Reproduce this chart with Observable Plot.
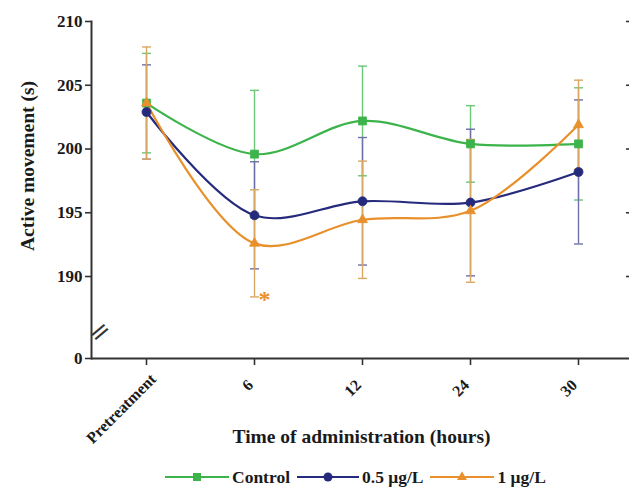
<!DOCTYPE html>
<html>
<head>
<meta charset="utf-8">
<script src="https://cdn.jsdelivr.net/npm/d3@7"></script>
<script src="https://cdn.jsdelivr.net/npm/@observablehq/plot@0.6"></script>
<style>
  html, body { margin: 0; padding: 0; background: #fff; }
  body { width: 629px; height: 488px; overflow: hidden; font-family: "Liberation Serif", "DejaVu Serif Condensed", "DejaVu Serif", serif; }
  #legend { display: flex; align-items: center; height: 26px; padding-top: 2px; margin-left: 165px;
            font-family: "Liberation Serif", "DejaVu Serif Condensed", "DejaVu Serif", serif; font-weight: bold; font-size: 17.5px; color: #1a1a1a; }
  #legend .item { display: flex; align-items: center; }
  #legend svg { display: block; }
  #legend span { margin-left: 3px; margin-right: 7px; white-space: nowrap; }
</style>
</head>
<body>
<div id="chart"></div>
<div id="legend"></div>
<script>
// ---- data ----
const categories = ["Pretreatment", "6", "12", "24", "30"];
const seriesNames = ["Control", "0.5 μg/L", "1 μg/L"];
const controlMean = [203.6, 199.6, 202.2, 200.4, 200.4];
const controlSD   = [3.9, 5.0, 4.3, 3.0, 4.4];
const lowMean     = [202.9, 194.8, 195.9, 195.8, 198.2];
const lowSD       = [3.7, 4.2, 5.0, 5.75, 5.65];
const highMean    = [203.6, 192.6, 194.45, 195.15, 201.9];
const highSD      = [4.4, 4.2, 4.6, 5.6, 3.5];
const yTicks = [190, 195, 200, 205, 210];
const yBreakBottom = 183.57;   // bottom of broken axis, labelled "0"
const yBreakMark = 185.1;      // where the "//" break sign sits
const significance = [{series: "1 μg/L", time: "6"}];

const colors    = ["#3cb44b", "#262a7c", "#e8902c"];
const errColors = ["#6cc777", "#6d71a9", "#d8a862"];
const symbols   = ["square", "circle", "triangle"];
const radii     = [4.5, 4.5, 3.7];

const means = [controlMean, lowMean, highMean];
const sds = [controlSD, lowSD, highSD];

const rowsBySeries = seriesNames.map((s, i) => categories.map((t, j) => ({
  series: s, time: t, mean: means[i][j], lo: means[i][j] - sds[i][j], hi: means[i][j] + sds[i][j]
})));

const capSymbol = {
  draw(ctx, size) { const r = Math.sqrt(size / Math.PI); ctx.moveTo(-r, 0); ctx.lineTo(r, 0); }
};

const errMarks = rowsBySeries.flatMap((rows, i) => [
  Plot.ruleX(rows, {x: "time", y1: "lo", y2: "hi", stroke: errColors[i], strokeWidth: 1.4}),
  Plot.dot(rows, {x: "time", y: "hi", symbol: capSymbol, r: 4.5, stroke: errColors[i], strokeWidth: 1.4, fill: "none"}),
  Plot.dot(rows, {x: "time", y: "lo", symbol: capSymbol, r: 4.5, stroke: errColors[i], strokeWidth: 1.4, fill: "none"})
]);
const lineMarks = rowsBySeries.map((rows, i) =>
  Plot.line(rows, {x: "time", y: "mean", curve: "catmull-rom", stroke: colors[i], strokeWidth: 2.2}));
const dotMarks = rowsBySeries.map((rows, i) =>
  Plot.dot(rows, {x: "time", y: "mean", symbol: symbols[i], r: radii[i], fill: colors[i], stroke: colors[i], strokeWidth: 0.8}));

const sigRows = significance.map(d => {
  const rows = rowsBySeries[seriesNames.indexOf(d.series)];
  return rows.find(r => r.time === d.time);
});

const ink = "#1a1a1a";
const axisInk = "#333";
const serif = "'Liberation Serif', 'DejaVu Serif Condensed', 'DejaVu Serif', serif";
const yLabelTicks = [yBreakBottom, ...yTicks];

const chart = Plot.plot({
  width: 629,
  height: 462,
  marginLeft: 91,
  marginTop: 21,
  marginRight: 4,
  marginBottom: 104,
  style: {fontFamily: serif, fontWeight: "bold", fontSize: "16px", color: ink, background: "#fff", overflow: "visible"},
  x: {type: "point", domain: categories, padding: 0, insetLeft: 54, insetRight: 47, label: null},
  y: {domain: [yBreakBottom, 210], label: null},
  marks: [
    Plot.axisY({ticks: yLabelTicks, tickFormat: () => "", tickSize: 6, stroke: axisInk, strokeWidth: 1.6, label: null}),
    Plot.text(yLabelTicks, {y: d => d, frameAnchor: "left", text: d => d === yBreakBottom ? "0" : String(d),
                textAnchor: "end", lineAnchor: "middle", dx: -9, fontSize: 17, fill: ink}),
    Plot.axisY({anchor: "right", ticks: yTicks, tickFormat: () => "", tickSize: 4, stroke: axisInk, strokeWidth: 1.6, label: null}),
    Plot.axisX({tickSize: 7, tickFormat: () => "", stroke: axisInk, strokeWidth: 1.6, label: null}),
    Plot.frame({anchor: "left", stroke: axisInk, strokeWidth: 2}),
    Plot.ruleY([yBreakBottom], {stroke: axisInk, strokeWidth: 2, insetRight: -4}),
    Plot.text(["="], {frameAnchor: "left", y: () => yBreakMark, text: d => d, rotate: -40,
                      fontSize: 26, fontFamily: "DejaVu Sans", fontWeight: "normal", fill: axisInk}),
    // x tick labels
    Plot.text(categories.slice(0, 1), {x: d => d, frameAnchor: "bottom", text: d => d, rotate: -45,
                      textAnchor: "end", lineAnchor: "middle", dx: 7, dy: 18, fontSize: 16, fill: ink}),
    Plot.text(categories.slice(1), {x: d => d, frameAnchor: "bottom", text: d => d, rotate: -45,
                      textAnchor: "end", lineAnchor: "middle", dx: -4, dy: 24, fontSize: 16, fill: ink}),
    // axis titles
    Plot.text(["Time of administration (hours)"], {frameAnchor: "bottom", text: d => d, dx: 3, dy: 78,
                      textAnchor: "middle", lineAnchor: "middle", fontSize: 19.5, fill: ink}),
    Plot.text(["Active movement (s)"], {frameAnchor: "left", text: d => d, rotate: -90, dx: -64, dy: -24,
                      textAnchor: "middle", lineAnchor: "middle", fontSize: 19.5, fill: ink}),
    ...errMarks,
    ...lineMarks,
    ...dotMarks,
    Plot.text(sigRows, {x: "time", y: "lo", text: () => "*", dx: 10, dy: 2, fontSize: 24, fill: colors[2]})
  ]
});
document.getElementById("chart").appendChild(chart);

// ---- legend ----
const legend = d3.select("#legend");
const swW = [64, 62, 64];
seriesNames.forEach((s, i) => {
  const item = legend.append("div").attr("class", "item");
  const svg = item.append("svg").attr("width", swW[i]).attr("height", 14);
  svg.append("line").attr("x1", 0).attr("x2", swW[i]).attr("y1", 7).attr("y2", 7)
     .attr("stroke", colors[i]).attr("stroke-width", 2);
  const sym = {square: d3.symbolSquare, circle: d3.symbolCircle, triangle: d3.symbolTriangle}[symbols[i]];
  svg.append("path").attr("transform", `translate(${swW[i] / 2},7)`)
     .attr("d", d3.symbol(sym, radii[i] * radii[i] * Math.PI)())
     .attr("fill", colors[i]);
  item.append("span").text(s);
});
</script>
</body>
</html>
